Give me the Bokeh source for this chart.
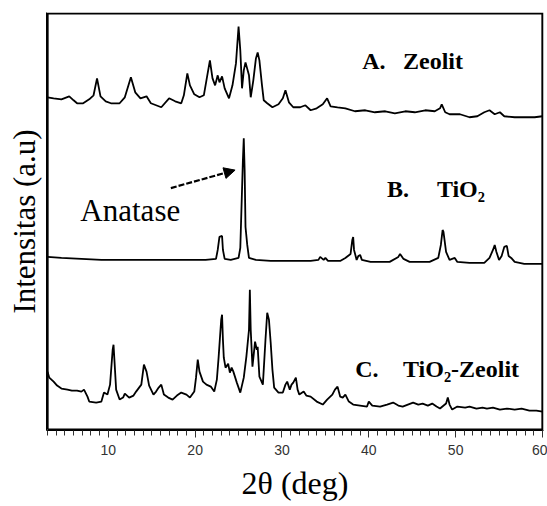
from bokeh.plotting import figure
from bokeh.models import Label, Arrow, NormalHead, Range1d, SingleIntervalTicker, Title, FixedTicker
from bokeh.embed import file_html
from bokeh.resources import INLINE

# --- XRD patterns (2-theta in degrees, intensity in arbitrary units) ---
two_theta_a = [3.0, 3.7, 4.6, 5.5, 6.0, 6.4, 7.1, 7.8, 8.3, 8.7, 9.1, 9.7, 10.3, 11.3, 11.9, 12.6, 13.1, 13.7,
               14.4, 14.9, 16.1, 17.0, 17.7, 18.4, 18.7, 19.1, 19.4, 19.9, 20.5, 21.0, 21.3, 21.7, 22.0, 22.3,
               22.6, 22.8, 23.1, 23.4, 23.9, 24.3, 24.7, 25.0, 25.2, 25.4, 25.6, 25.8, 26.2, 26.4, 26.7, 27.0,
               27.2, 27.4, 27.7, 27.9, 28.3, 28.9, 29.6, 30.1, 30.4, 30.8, 31.3, 32.1, 32.7, 33.3, 34.0, 34.7,
               35.2, 35.6, 36.4, 37.3, 38.4, 39.6, 40.7, 41.9, 43.0, 44.2, 45.3, 46.5, 47.6, 48.2, 48.4, 48.8,
               49.3, 50.5, 51.6, 52.5, 53.3, 53.9, 54.5, 55.1, 55.6, 56.8, 57.9, 59.1, 60.0]
intensity_a = [33, 32, 31, 34, 30, 27, 27, 31, 35, 52, 34, 29, 27, 27, 33, 53, 38, 32,
               34, 27, 23, 32, 29, 27, 35, 57, 45, 36, 33, 35, 50, 70, 52, 45,
               55, 48, 54, 42, 32, 45, 67, 104, 80, 42, 60, 68, 55, 33, 50, 72,
               78, 70, 45, 30, 27, 23, 26, 32, 40, 28, 23, 23, 25, 20, 22, 26,
               32, 24, 23, 22, 19, 20, 18, 19, 17, 19, 18, 20, 19, 22, 26, 18,
               16, 16, 13, 14, 18, 20, 16, 18, 14, 13, 13, 13, 14]

two_theta_b = [3.0, 4.6, 6.9, 9.2, 12.6, 16.1, 19.5, 21.2, 22.4, 22.6, 22.8, 23.1, 23.2, 23.4, 24.1, 25.0,
               25.2, 25.5, 25.6, 25.7, 25.8, 26.0, 26.2, 27.0, 28.7, 31.0, 33.3, 34.2, 34.4, 34.8, 35.0,
               35.3, 36.7, 37.3, 37.9, 38.1, 38.2, 38.3, 38.6, 38.8, 39.0, 39.2, 40.2, 42.4, 43.4, 43.6,
               44.0, 44.7, 47.0, 48.0, 48.3, 48.5, 48.6, 48.9, 49.3, 49.9, 50.2, 51.6, 53.3, 53.9, 54.3,
               54.5, 54.7, 55.0, 55.3, 55.6, 55.9, 56.1, 56.4, 56.8, 57.9, 60.0]
intensity_b = [13, 12, 11, 10, 10, 10, 10, 10, 11, 20, 33, 34, 20, 11, 10, 12,
               22, 110, 132, 100, 43, 25, 12, 10, 9, 9, 9, 10, 13, 10, 12,
               9, 9, 12, 16, 30, 33, 20, 10, 14, 15, 10, 8, 8, 13, 16,
               11, 8, 8, 12, 25, 40, 38, 18, 10, 12, 8, 7, 7, 12, 20,
               25, 18, 10, 14, 23, 24, 14, 12, 8, 6, 6]

two_theta_c = [3.0, 3.2, 3.7, 4.1, 4.6, 5.3, 5.8, 6.4, 6.9, 7.2, 7.6, 7.8, 8.6, 9.2, 9.5, 9.9, 10.2, 10.5,
               10.6, 10.7, 10.9, 11.3, 11.7, 11.9, 12.4, 12.9, 13.2, 13.8, 14.1, 14.4, 14.7, 15.2, 15.5,
               15.8, 16.1, 16.4, 16.9, 17.4, 17.9, 18.4, 19.0, 19.4, 19.9, 20.1, 20.3, 20.5, 20.9, 21.3,
               21.8, 22.2, 22.5, 22.7, 23.0, 23.1, 23.2, 23.3, 23.5, 23.8, 24.0, 24.2, 24.4, 24.8, 25.2,
               25.6, 25.9, 26.2, 26.3, 26.4, 26.6, 26.9, 27.1, 27.2, 27.4, 27.8, 28.0, 28.1, 28.3, 28.5,
               28.7, 28.9, 29.1, 29.6, 30.1, 30.4, 30.6, 30.9, 31.1, 31.3, 31.6, 31.8, 32.0, 32.5, 32.8,
               33.3, 34.0, 34.7, 35.2, 35.8, 36.1, 36.4, 36.7, 37.0, 37.3, 37.7, 38.2, 39.0, 39.8, 40.0,
               40.4, 41.3, 42.1, 42.8, 43.4, 43.9, 44.5, 45.1, 45.7, 46.2, 46.8, 47.3, 47.8, 48.2, 48.9,
               49.1, 49.3, 49.6, 50.2, 51.1, 51.6, 52.4, 53.1, 53.6, 54.3, 55.1, 55.9, 56.8, 57.6, 58.5,
               59.3, 60.0]
intensity_c = [58, 52, 48, 44, 41, 40, 39, 39, 38, 40, 33, 28, 27, 28, 37, 35, 45, 80,
               85, 70, 40, 30, 32, 36, 32, 34, 38, 45, 65, 58, 44, 35, 38,
               42, 45, 35, 32, 30, 34, 37, 35, 32, 38, 52, 70, 58, 48, 45,
               43, 38, 50, 72, 110, 115, 90, 72, 62, 66, 57, 62, 58, 47, 37,
               52, 73, 100, 140, 100, 63, 88, 80, 83, 53, 45, 75, 90, 117, 110,
               87, 60, 42, 37, 37, 45, 48, 40, 45, 47, 52, 40, 35, 38, 34,
               33, 28, 25, 30, 35, 40, 43, 33, 32, 35, 28, 25, 24, 23, 28,
               24, 23, 25, 27, 24, 23, 25, 27, 25, 26, 24, 26, 23, 21, 26,
               32, 25, 20, 23, 22, 23, 21, 22, 21, 22, 20, 21, 20, 21, 19,
               19, 18]

# vertical stacking of the three patterns
offsets = {"a": 300, "b": 160, "c": 0}

X_MIN, X_MAX, Y_MIN, Y_MAX = 3, 60, 0, 417
X_PAD, Y_PAD = 0.12, 1.0
serif = "Liberation Serif"

p = figure(width=547, height=506, output_backend="svg", toolbar_location=None,
           x_range=Range1d(X_MIN - X_PAD, X_MAX + X_PAD),
           y_range=Range1d(Y_MIN - Y_PAD, Y_MAX + Y_PAD),
           min_border_left=46, min_border_right=4, min_border_top=12, min_border_bottom=76)
p.grid.visible = False
p.background_fill_color = "white"
p.border_fill_color = "white"
p.outline_line_color = None

# frame border: a closed path around the data range, drawn like the traces
p.line([X_MIN, X_MAX, X_MAX, X_MIN, X_MIN], [Y_MIN, Y_MIN, Y_MAX, Y_MAX, Y_MIN],
       line_color="black", line_width=2.2, line_join="miter")

for tt, inten, key in [(two_theta_a, intensity_a, "a"), (two_theta_b, intensity_b, "b"),
                       (two_theta_c, intensity_c, "c")]:
    p.line(tt, [v + offsets[key] for v in inten], line_color="black", line_width=1.8)

# x axis
p.xaxis.ticker = SingleIntervalTicker(interval=10, num_minor_ticks=10)
p.xaxis.axis_line_color = "black"
p.xaxis.axis_line_width = 1
p.xaxis.major_tick_out = 7
p.xaxis.major_tick_in = 0
p.xaxis.minor_tick_out = 5
p.xaxis.minor_tick_in = 0
p.xaxis.major_tick_line_color = "#333333"
p.xaxis.minor_tick_line_color = "#333333"
p.xaxis.major_label_text_font = "Liberation Sans"
p.xaxis.major_label_text_font_size = "14px"
p.xaxis.major_label_text_color = "#333333"
p.xaxis.major_label_standoff = 7

# y axis: plain line, no ticks
p.yaxis.ticker = FixedTicker(ticks=[])
p.yaxis.major_tick_line_color = None
p.yaxis.minor_tick_line_color = None
p.yaxis.major_label_text_font_size = "0px"
p.yaxis.axis_line_color = "black"
p.yaxis.axis_line_width = 1

# axis titles
p.add_layout(Title(text="2θ (deg)", align="center", offset=-16, text_font=serif,
                   text_font_size="32px", text_font_style="normal", text_color="black",
                   standoff=10), "below")
p.add_layout(Title(text="Intensitas (a.u)", align="center", offset=12, text_font=serif,
                   text_font_size="31px", text_font_style="normal", text_color="black",
                   standoff=9), "left")

def bold_label(x, y, text):
    p.add_layout(Label(x=x, y=y, text=text, text_font=serif, text_font_size="24px",
                       text_font_style="bold", text_color="black", text_baseline="alphabetic"))

bold_label(39.24, 369, "A.")
bold_label(43.94, 369, "Zeolit")
bold_label(42.10, 241, "B.")
bold_label(47.84, 241, "TiO₂")
bold_label(38.44, 61, "C.")
bold_label(43.94, 61, "TiO₂-Zeolit")

p.add_layout(Label(x=6.78, y=220, text="Anatase", text_font=serif, text_font_size="31px",
                   text_color="black", text_baseline="alphabetic"))
p.add_layout(Arrow(x_start=17.2, y_start=242, x_end=24.6, y_end=260,
                   line_color="black", line_width=2.2, line_dash="6 2",
                   end=NormalHead(size=11, fill_color="black", line_color="black")))

open("out.html", "w").write(file_html(p, INLINE))
